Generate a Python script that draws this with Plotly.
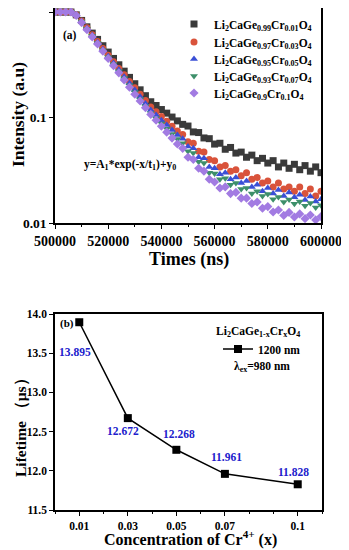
import plotly.graph_objects as go

# ---------------- data: panel (a) decay curves ----------------
time_ns = [500000 + 2000 * i for i in range(51)]

series_names = [
    "Li<sub>2</sub>CaGe<sub>0.99</sub>Cr<sub>0.01</sub>O<sub>4</sub>",
    "Li<sub>2</sub>CaGe<sub>0.97</sub>Cr<sub>0.03</sub>O<sub>4</sub>",
    "Li<sub>2</sub>CaGe<sub>0.95</sub>Cr<sub>0.05</sub>O<sub>4</sub>",
    "Li<sub>2</sub>CaGe<sub>0.93</sub>Cr<sub>0.07</sub>O<sub>4</sub>",
    "Li<sub>2</sub>CaGe<sub>0.9</sub>Cr<sub>0.1</sub>O<sub>4</sub>",
]

int_001 = [1.0, 1.0, 1.0, 1.0, 0.94, 0.832, 0.724, 0.631, 0.550, 0.479, 0.417,
           0.363, 0.316, 0.275, 0.240, 0.209, 0.183, 0.161, 0.141, 0.130, 0.119,
           0.110, 0.101, 0.0929, 0.0861, 0.083, 0.073, 0.072, 0.064, 0.063, 0.056,
           0.057, 0.050, 0.052, 0.046, 0.047, 0.042, 0.044, 0.039, 0.041, 0.037,
           0.039, 0.034, 0.037, 0.033, 0.036, 0.032, 0.035, 0.031, 0.034, 0.030]
int_003 = [1.0, 1.0, 1.0, 1.0, 0.937, 0.822, 0.708, 0.610, 0.525, 0.452, 0.389,
           0.337, 0.292, 0.254, 0.220, 0.191, 0.166, 0.145, 0.126, 0.1135, 0.102,
           0.092, 0.0828, 0.0746, 0.069, 0.059, 0.057, 0.048, 0.047, 0.040, 0.039,
           0.034, 0.035, 0.031, 0.032, 0.028, 0.030, 0.026, 0.027, 0.024, 0.025,
           0.022, 0.024, 0.021, 0.022, 0.020, 0.022, 0.019, 0.021, 0.018, 0.020]
int_005 = [1.0, 1.0, 1.0, 1.0, 0.935, 0.818, 0.702, 0.603, 0.516, 0.444, 0.380,
           0.328, 0.283, 0.244, 0.211, 0.182, 0.157, 0.136, 0.1175, 0.1054, 0.0944,
           0.0847, 0.076, 0.0682, 0.063, 0.053, 0.051, 0.042, 0.041, 0.034, 0.033,
           0.029, 0.030, 0.026, 0.027, 0.024, 0.025, 0.022, 0.023, 0.020, 0.0215,
           0.019, 0.0205, 0.018, 0.0195, 0.0175, 0.0185, 0.0165, 0.0178, 0.016, 0.0168]
int_007 = [1.0, 1.0, 1.0, 1.0, 0.933, 0.813, 0.695, 0.594, 0.508, 0.435, 0.372,
           0.319, 0.274, 0.236, 0.202, 0.174, 0.149, 0.128, 0.1096, 0.098, 0.0875,
           0.0782, 0.0698, 0.0624, 0.057, 0.048, 0.046, 0.038, 0.037, 0.030, 0.0295,
           0.026, 0.0265, 0.023, 0.024, 0.021, 0.0215, 0.019, 0.020, 0.018, 0.0188,
           0.0168, 0.0176, 0.0158, 0.0167, 0.0152, 0.016, 0.0146, 0.0155, 0.014, 0.0147]
int_010 = [1.0, 1.0, 1.0, 1.0, 0.927, 0.794, 0.679, 0.581, 0.497, 0.425, 0.363,
           0.310, 0.265, 0.227, 0.194, 0.166, 0.1435, 0.124, 0.107, 0.0942, 0.0826,
           0.0726, 0.0638, 0.056, 0.051, 0.042, 0.040, 0.033, 0.031, 0.026, 0.0245,
           0.0215, 0.022, 0.019, 0.0195, 0.0172, 0.0172, 0.0153, 0.0158, 0.0138, 0.0143,
           0.0127, 0.0133, 0.0118, 0.0126, 0.0114, 0.0122, 0.011, 0.0119, 0.0107, 0.0115]

decay_series = [int_001, int_003, int_005, int_007, int_010]
colors = ["#3a3a3a", "#d9533b", "#3a4fd6", "#3d8f6a", "#a27be2"]
symbols = ["square", "circle", "triangle-up", "triangle-down", "diamond"]

x_ticks_a = [500000, 520000, 540000, 560000, 580000, 600000]
y_ticks_a = [1, 0.1, 0.01]
y_ticklabels_a = ["1", "0.1", "0.01"]

# ---------------- data: panel (b) lifetime ----------------
cr_conc = [0.01, 0.03, 0.05, 0.07, 0.1]
lifetime_us = [13.895, 12.672, 12.268, 11.961, 11.828]
x_ticks_b = [0.01, 0.03, 0.05, 0.07, 0.1]
x_ticklabels_b = ["0.01", "0.03", "0.05", "0.07", "0.1"]
y_ticks_b = [11.5, 12.0, 12.5, 13.0, 13.5, 14.0]
label_shifts = [(-4, -30), (-5, -13), (3, 16), (2, 17), (-4, 12)]

# page body has an 8px margin: figure is drawn 8px in, so size/coords compensate
OFF = 8
W, H = 349 - OFF, 550 - OFF
FONT = "Liberation Serif"


def px(xp):
    return min(1.0, max(0.0, (xp - OFF) / W))


def py(yp):
    return min(1.0, max(0.0, 1 - (yp - OFF) / H))


fig = go.Figure()

legend_ids = ["legend", "legend3", "legend4", "legend5", "legend6"]
legend_rows = [24, 42, 59, 76, 93]

for name, vals, col, sym, lid in zip(series_names, decay_series, colors, symbols, legend_ids):
    fig.add_trace(go.Scatter(
        x=time_ns, y=vals, mode="markers", name=name,
        marker=dict(symbol=sym, size=7, color=col, line=dict(width=0)),
        xaxis="x", yaxis="y", legend=lid,
    ))

fig.add_trace(go.Scatter(
    x=cr_conc, y=lifetime_us, mode="lines+markers", name="1200 nm",
    line=dict(color="black", width=1.5),
    marker=dict(symbol="square", size=8, color="black"),
    xaxis="x2", yaxis="y2", legend="legend2",
))

axis_common = dict(showline=True, linecolor="black", linewidth=1.5, mirror=True,
                   ticks="outside", ticklen=4, tickwidth=1.2, tickcolor="black",
                   showgrid=False, zeroline=False)

legend_font = dict(size=11.5, family=FONT, weight="bold")
legend_layouts = {}
for lid, row in zip(legend_ids, legend_rows):
    legend_layouts[lid] = dict(x=px(174), y=py(row), xanchor="left", yanchor="middle",
                               bgcolor="rgba(0,0,0,0)", borderwidth=0, itemwidth=30,
                               font=legend_font, itemclick=False)

fig.update_layout(
    width=W, height=H,
    margin=dict(l=0, r=0, t=0, b=0),
    paper_bgcolor="white", plot_bgcolor="white",
    font=dict(family=FONT, color="black", size=12, weight="bold"),
    xaxis=dict(domain=[px(55), px(321)], anchor="y", range=[500000, 600000],
               tickvals=x_ticks_a, ticktext=[str(v) for v in x_ticks_a],
               tickfont=dict(size=14, family=FONT, weight="bold"),
               minor=dict(dtick=10000, ticks="outside", ticklen=2.5, tickcolor="black"),
               automargin=False, **axis_common),
    yaxis=dict(domain=[py(223), py(8)], anchor="x", type="log", range=[-2, 0.038],
               tickvals=y_ticks_a, ticktext=y_ticklabels_a,
               tickfont=dict(size=13.5, family=FONT, weight="bold"),
               automargin=False, **axis_common),
    xaxis2=dict(domain=[px(55), px(322)], anchor="y2", range=[0, 0.11],
                tickvals=x_ticks_b, ticktext=x_ticklabels_b,
                tickfont=dict(size=11.5, family=FONT, weight="bold"),
                minor=dict(dtick=0.01, tick0=0, ticks="outside", ticklen=2.5, tickcolor="black"),
                automargin=False, **axis_common),
    yaxis2=dict(domain=[py(510), py(314)], anchor="x2", range=[11.5, 14.0],
                tickvals=y_ticks_b, ticktext=["%.1f" % v for v in y_ticks_b],
                tickfont=dict(size=11.5, family=FONT, weight="bold"),
                automargin=False, **axis_common),
    legend2=dict(x=px(218), y=py(349), xanchor="left", yanchor="middle",
                 bgcolor="rgba(0,0,0,0)", borderwidth=0, itemwidth=30,
                 font=legend_font, itemclick=False),
    showlegend=True,
)
fig.update_layout(**legend_layouts)

anns = []


def add_text(text, x, y, size, angle=0, color="black", xanchor="center"):
    anns.append(dict(text=text, x=px(x), y=py(y), xref="paper", yref="paper",
                     showarrow=False, textangle=angle, xanchor=xanchor, yanchor="middle",
                     font=dict(size=size, family=FONT, color=color, weight="bold")))


add_text("Intensity (a.u)", 18, 115, 17.5, angle=-90)
add_text("Times (ns)", 189, 260, 18)
add_text("(a)", 70, 36, 11.5)
add_text("y=A<sub>1</sub>*exp(-x/t<sub>1</sub>)+y<sub>0</sub>", 130, 165, 11.5)
add_text("Lifetime （μs）", 21, 424, 15.5, angle=-90)
add_text("Concentration of Cr<sup>4+</sup> (x)", 190, 538, 16)
add_text("(b)", 67, 323, 11)
add_text("Li<sub>2</sub>CaGe<sub>1-x</sub>Cr<sub>x</sub>O<sub>4</sub>", 258, 332, 11.5)
add_text("λ<sub>ex</sub>=980 nm", 262, 367, 11.5)

for xv, yv, (dx, dy) in zip(cr_conc, lifetime_us, label_shifts):
    anns.append(dict(text="%.3f" % yv, x=xv, y=yv, xref="x2", yref="y2",
                     showarrow=False, xshift=dx, yshift=dy,
                     font=dict(size=11.5, family=FONT, color="#2020cc", weight="bold")))

fig.update_layout(annotations=anns)

fig.write_html("out.html")
